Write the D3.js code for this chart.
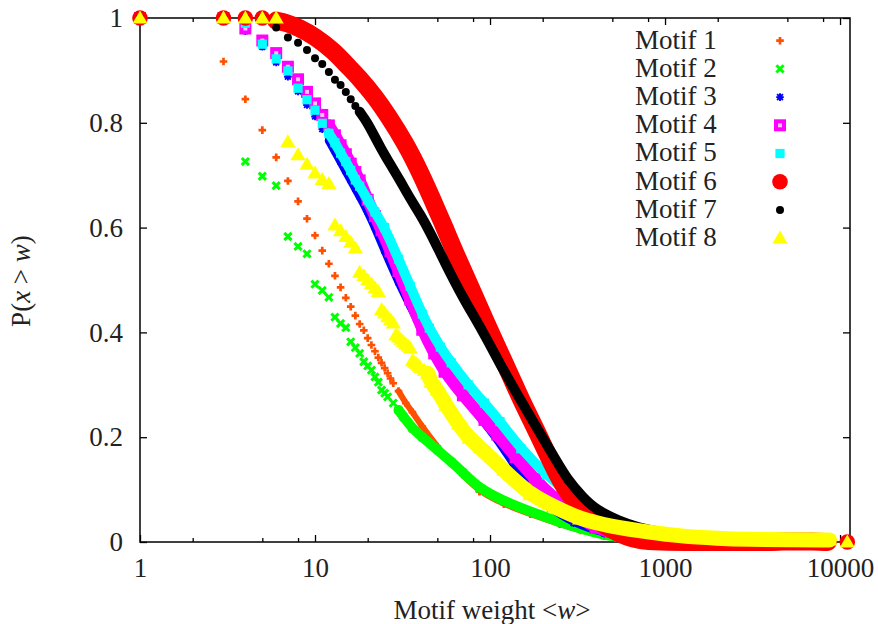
<!DOCTYPE html>
<html><head><meta charset="utf-8">
<script src="https://cdn.jsdelivr.net/npm/d3@7"></script>
<style>body{margin:0;background:#fff}svg{display:block}</style>
</head><body>
<svg id="c" width="878" height="624"></svg>
<script>
// ---------- data ----------
const xTickVals = [1, 10, 100, 1000, 10000];
const xTickLabels = ["1", "10", "100", "1000", "10000"];
const xMinorVals = [2, 5, 8, 20, 50, 80, 200, 500, 800, 2000, 5000, 8000];
const yTickVals = [0, 0.2, 0.4, 0.6, 0.8, 1];
const yTickLabels = ["0", "0.2", "0.4", "0.6", "0.8", "1"];
const seriesNames = ["Motif 1", "Motif 2", "Motif 3", "Motif 4", "Motif 5", "Motif 6", "Motif 7", "Motif 8"];

const motif1 = [[1,1],[3,0.917],[4,0.845],[5,0.786],[6,0.734],[7,0.689],[8,0.650],[9,0.617],[10,0.585],[11,0.556],[12,0.531],[13,0.508],[14,0.486],[15,0.466],[16,0.449],[17,0.432],[18,0.416],[19,0.404],[20,0.389],[21,0.376],[22,0.364],[23,0.352],[24,0.342],[25,0.332],[26,0.322],[27,0.312],[28,0.303],[30,0.288],[33,0.265],[36,0.248],[41,0.220],[50,0.182],[60,0.150],[70,0.128],[87,0.096],[120,0.072],[170,0.053],[250,0.034],[330,0.022],[450,0.011],[600,0.005],[800,0.002],[1000,0.001],[1500,0]];
const motif2 = [[1,1],[3,1],[4,0.726],[5,0.698],[6,0.680],[7,0.583],[8,0.564],[9,0.550],[10,0.492],[11,0.480],[12,0.467],[13,0.429],[14,0.417],[15,0.409],[16,0.382],[17,0.371],[18,0.360],[19,0.344],[20,0.336],[21,0.328],[22,0.315],[23,0.305],[24,0.290],[25,0.284],[26,0.277],[28,0.265],[30,0.252],[32,0.239],[36,0.217],[41,0.200],[50,0.176],[60,0.153],[70,0.133],[87,0.102],[120,0.078],[170,0.058],[250,0.038],[330,0.025],[450,0.013],[600,0.007],[800,0.003],[1000,0.001],[1500,0]];
const motif3 = [[1,1],[3,1],[4,0.975],[5,0.945],[6,0.915],[7,0.888],[8,0.860],[9,0.834],[10,0.812],[11,0.788],[12,0.766],[13,0.745],[14,0.725],[15,0.707],[16,0.690],[17,0.674],[18,0.659],[20,0.630],[22,0.600],[25,0.555],[30,0.495],[35,0.45],[38,0.425],[45,0.38],[55,0.333],[70,0.28],[90,0.232],[110,0.196],[135,0.15],[170,0.103],[220,0.064],[300,0.036],[450,0.016],[700,0.007],[1200,0.002],[3000,0]];
const motif4 = [[1,1],[3,1],[4,0.980],[5,0.957],[6,0.933],[7,0.907],[8,0.883],[9,0.859],[10,0.837],[11,0.815],[12,0.795],[13,0.776],[14,0.757],[15,0.740],[16,0.722],[17,0.706],[18,0.690],[20,0.653],[22,0.622],[24,0.595],[27,0.555],[30,0.517],[35,0.463],[41,0.405],[48,0.36],[55,0.325],[70,0.28],[93,0.233],[110,0.205],[140,0.162],[180,0.12],[230,0.085],[300,0.052],[400,0.027],[550,0.012],[800,0.005],[1200,0.002],[2500,0]];
const motif5 = [[1,1],[3,1],[4,0.99],[5,0.950],[6,0.922],[7,0.899],[8,0.866],[9,0.844],[10,0.824],[11,0.799],[12,0.780],[13,0.762],[14,0.742],[15,0.726],[16,0.709],[17,0.691],[18,0.679],[20,0.653],[22,0.630],[25,0.600],[30,0.54],[35,0.488],[41,0.435],[45,0.408],[52,0.372],[60,0.342],[75,0.30],[93,0.265],[114,0.23],[150,0.178],[210,0.128],[300,0.085],[400,0.055],[600,0.028],[1000,0.012],[2000,0.004],[5000,0]];
const motif6 = [[1,1],[3,1],[4,1],[5,1],[6,0.995],[7,0.99],[8,0.982],[10,0.965],[13,0.935],[15,0.912],[18,0.885],[22,0.85],[26,0.815],[33,0.76],[40,0.705],[50,0.632],[55,0.600],[65,0.542],[80,0.476],[102,0.395],[130,0.32],[150,0.272],[186,0.21],[241,0.128],[290,0.085],[339,0.061],[420,0.038],[500,0.023],[600,0.01],[720,0.003],[900,0.001],[1500,0],[2500,0],[4000,0],[4700,0.001],[5600,0.001],[7000,0.001],[8500,0],[11000,0]];
const motif7 = [[1,1],[3,1],[4,1],[5,1],[6,0.982],[7,0.963],[8,0.953],[9,0.939],[10,0.923],[11,0.912],[12,0.897],[13,0.882],[14,0.872],[15,0.859],[16,0.845],[17,0.832],[18,0.821],[20,0.800],[23.5,0.754],[27,0.72],[30.5,0.691],[35,0.655],[40,0.625],[46,0.588],[55,0.534],[70,0.466],[90,0.405],[120,0.326],[150,0.27],[188,0.214],[230,0.165],[278,0.118],[340,0.085],[405,0.061],[550,0.04],[700,0.028],[900,0.02],[1200,0.013],[2000,0.006],[4000,0.002],[8000,0]];
const motif8 = [[1,1],[3,1],[4,1],[5,1],[6,1],[7,0.764],[8,0.739],[9,0.721],[10,0.704],[11,0.692],[12,0.684],[13,0.605],[14,0.594],[15,0.583],[16,0.572],[17,0.561],[18,0.515],[19,0.508],[20,0.500],[21,0.493],[22,0.485],[23,0.478],[24,0.443],[25,0.437],[26,0.430],[27,0.424],[28,0.418],[29,0.395],[30,0.391],[31,0.387],[32,0.382],[33,0.378],[34,0.374],[35,0.370],[36,0.346],[37,0.343],[38,0.340],[39,0.337],[40,0.333],[42,0.328],[44,0.322],[46,0.305],[50,0.29],[56,0.261],[66,0.225],[76,0.198],[88,0.18],[120,0.137],[169,0.09],[240,0.065],[325,0.044],[500,0.029],[800,0.019],[1230,0.011],[2000,0.007],[3000,0.005],[5000,0.004],[8700,0.004],[11000,0]];

const seriesData = [motif1, motif2, motif3, motif4, motif5, motif6, motif7, motif8];

// ---------- styles ----------
const styles = [
  {color:"#ff4f00", shape:"plus",   band:6,  from:30},
  {color:"#00ff00", shape:"cross",  band:10, from:30},
  {color:"#0000ff", shape:"star",   band:8,  from:12},
  {color:"#ff00ff", shape:"osq",    band:12, from:12},
  {color:"#00ffff", shape:"sq",     band:10, from:12},
  {color:"#ff0000", shape:"bigdot", band:18, from:6},
  {color:"#000000", shape:"dot",    band:10, from:18},
  {color:"#ffff00", shape:"tri",    band:15, from:44}
];

const FONT = "'Liberation Serif','Times New Roman',serif";
const TXT = "#222";
const FS = 27;

const x = d3.scaleLog().domain([1, 11400]).range([140, 850]);
const y = d3.scaleLinear().domain([0, 1]).range([542, 18]);
const svg = d3.select("#c");

// frame
svg.append("rect").attr("x", x.range()[0]).attr("y", y.range()[1])
  .attr("width", x.range()[1]-x.range()[0]).attr("height", y.range()[0]-y.range()[1])
  .attr("fill","none").attr("stroke","#000").attr("stroke-width",1.5);

function styleAxis(g){
  g.select(".domain").remove();
  g.selectAll(".tick line").attr("stroke","#000").attr("stroke-width",1.3);
  g.selectAll("text").attr("font-family",FONT).attr("font-size",FS).attr("fill",TXT);
}
svg.append("g").attr("transform",`translate(0,${y(0)})`)
  .call(d3.axisBottom(x).tickValues(xTickVals).tickFormat((d,i)=>xTickLabels[i]).tickSizeInner(-7).tickSizeOuter(0).tickPadding(16))
  .call(styleAxis);
svg.append("g").attr("transform",`translate(0,${y(0)})`)
  .call(d3.axisBottom(x).tickValues(xMinorVals).tickFormat("").tickSizeInner(-4).tickSizeOuter(0))
  .call(styleAxis);
svg.append("g").attr("transform",`translate(0,${y(1)})`)
  .call(d3.axisTop(x).tickValues(xTickVals).tickFormat("").tickSizeInner(-7).tickSizeOuter(0))
  .call(styleAxis);
svg.append("g").attr("transform",`translate(0,${y(1)})`)
  .call(d3.axisTop(x).tickValues(xMinorVals).tickFormat("").tickSizeInner(-4).tickSizeOuter(0))
  .call(styleAxis);
svg.append("g").attr("transform",`translate(${x(1)},0)`)
  .call(d3.axisLeft(y).tickValues(yTickVals).tickFormat((d,i)=>yTickLabels[i]).tickSizeInner(-7).tickSizeOuter(0).tickPadding(17))
  .call(styleAxis);
svg.append("g").attr("transform",`translate(${x.range()[1]},0)`)
  .call(d3.axisRight(y).tickValues(yTickVals).tickFormat("").tickSizeInner(-7).tickSizeOuter(0))
  .call(styleAxis);

// axis titles
const xt = svg.append("text").attr("x",492).attr("y",619).attr("text-anchor","middle")
  .attr("font-family",FONT).attr("font-size",FS).attr("fill",TXT);
xt.append("tspan").text("Motif weight <");
xt.append("tspan").attr("font-style","italic").text("w");
xt.append("tspan").text(">");

const yt = svg.append("text").attr("transform","translate(30,281) rotate(-90)").attr("text-anchor","middle")
  .attr("font-family",FONT).attr("font-size",FS).attr("fill",TXT);
yt.append("tspan").text("P(");
yt.append("tspan").attr("font-style","italic").text("x");
yt.append("tspan").text(" > ");
yt.append("tspan").attr("font-style","italic").text("w");
yt.append("tspan").text(")");

// markers
function drawMarker(g, st, solid){
  const c = st.color;
  switch(st.shape){
    case "plus":
      g.append("path").attr("d","M-3.8,0H3.8M0,-3.8V3.8").attr("stroke",c).attr("stroke-width",2.7).attr("fill","none");
      break;
    case "cross":
      g.append("path").attr("d","M-3.6,-3.6L3.6,3.6M-3.6,3.6L3.6,-3.6").attr("stroke",c).attr("stroke-width",3).attr("fill","none");
      break;
    case "star":
      g.append("path").attr("d","M-3.8,0H3.8M0,-3.8V3.8M-2.9,-2.9L2.9,2.9M-2.9,2.9L2.9,-2.9").attr("stroke",c).attr("stroke-width",1.9).attr("fill","none");
      break;
    case "osq":
      g.append("rect").attr("x",-4).attr("y",-4).attr("width",8).attr("height",8)
        .attr("fill", solid ? c : "#f7c4f7").attr("stroke",c).attr("stroke-width",4);
      break;
    case "sq":
      g.append("rect").attr("x",-4.6).attr("y",-4.6).attr("width",9.2).attr("height",9.2).attr("fill",c);
      break;
    case "bigdot":
      g.append("circle").attr("r",7.8).attr("fill",c);
      break;
    case "dot":
      g.append("circle").attr("r",4).attr("fill",c);
      break;
    case "tri":
      g.append("path").attr("d","M0,-7.5L7.6,5.5L-7.6,5.5Z").attr("fill",c);
      break;
  }
}

const line = d3.line().x(d=>x(d[0])).y(d=>y(d[1])).curve(d3.curveBasis);

seriesData.forEach((data, i) => {
  const st = styles[i];
  const g = svg.append("g");
  const inBand = d => d[0] >= st.from && d[0] <= 9000;
  const bandPts = data.filter(inBand);
  g.append("path").attr("d", line(bandPts)).attr("fill","none")
    .attr("stroke", st.color).attr("stroke-width", st.band)
    .attr("stroke-linejoin","round").attr("stroke-linecap","round");
  g.selectAll("g.m").data(data).join("g").attr("class","m")
    .attr("transform", d => `translate(${x(d[0])},${y(d[1])})`)
    .each(function(d){ drawMarker(d3.select(this), st, inBand(d)); });
});

// legend
const leg = svg.append("g");
seriesNames.forEach((name, i) => {
  const cy = 40.7 + 28.2*i;
  leg.append("text").attr("x",635).attr("y",cy+7.8).text(name)
    .attr("font-family",FONT).attr("font-size",FS).attr("fill",TXT);
  const mg = leg.append("g").attr("transform",`translate(780,${cy})`);
  drawMarker(mg, styles[i], false);
});
</script>
</body></html>
